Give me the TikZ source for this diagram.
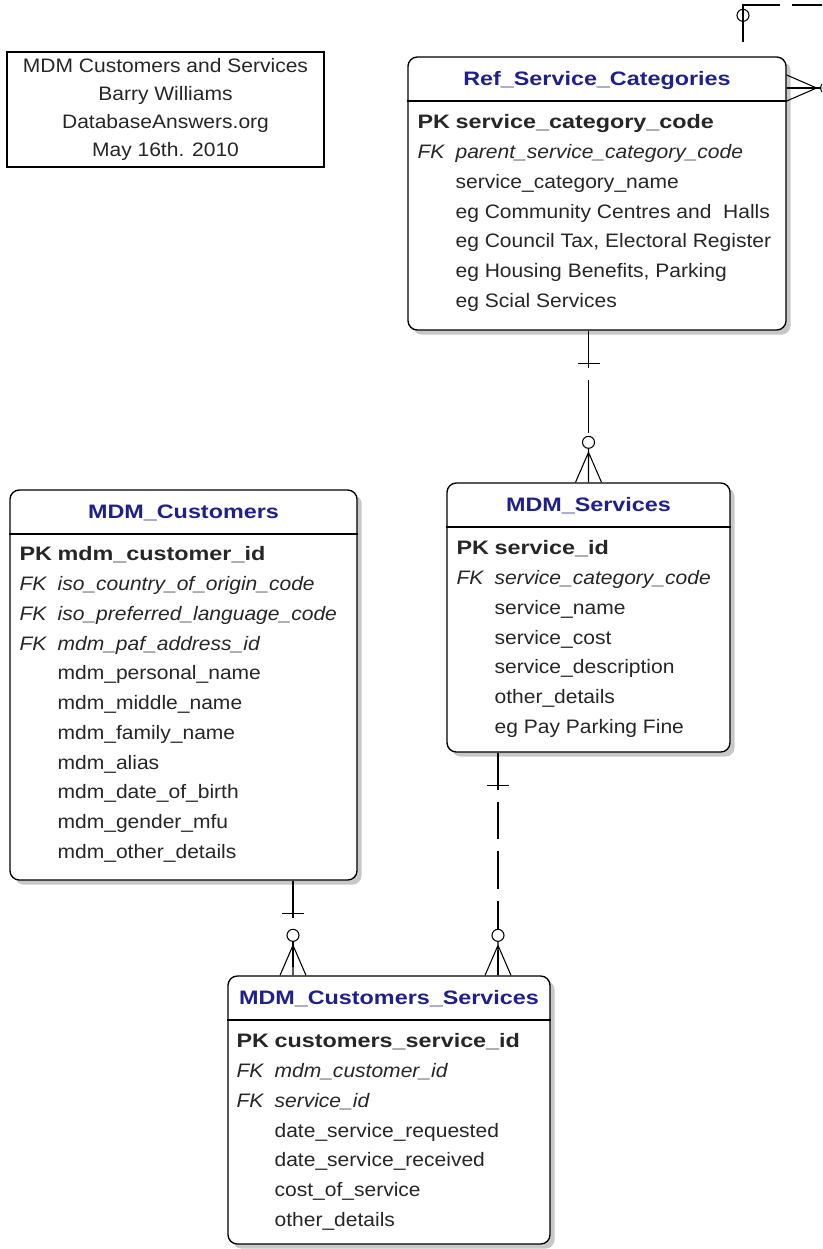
\documentclass[tikz,border=0pt]{standalone}
\usepackage{fontspec}
\setmainfont{Liberation Sans}[FakeStretch=1.08, BoldFeatures={FakeStretch=1.2}]
\usetikzlibrary{calc,fit,shadows}
\definecolor{titleblue}{RGB}{32,32,140}
\definecolor{shadowgrey}{RGB}{200,200,200}

\newcommand{\pkrow}[1]{\textbf{PK} & \textbf{#1}\\}
\newcommand{\fkrow}[1]{\textit{FK} & \textit{#1}\\}
\newcommand{\attrow}[1]{ & #1\\}

\tikzset{
  entity/.style={draw, line width=1pt, rounded corners=7pt, fill=white, inner sep=0pt,
    drop shadow={shadow xshift=3.5pt, shadow yshift=-3.5pt, fill=shadowgrey, opacity=1}},
  etitle/.style={anchor=north, minimum height=44*0.75pt, text height=10.5pt, text depth=0pt,
    inner sep=0pt, font=\fontsize{14.6pt}{17pt}\selectfont\bfseries, text=titleblue},
  fields/.style={anchor=north west, inner sep=0pt, text=black!85,
    font=\fontsize{14.6pt}{22.3pt}\selectfont},
  note/.style={draw, line width=0.8pt, minimum width=317*0.75pt, minimum height=115*0.75pt,
    align=center, text=black!85, font=\fontsize{14.6pt}{21pt}\selectfont},
  relline/.style={line width=0.8pt, dash pattern=on 28pt off 9pt},
  pics/oneside/.style={code={\draw[line width=0.8pt] (-11,33) -- (11,33);}},
  pics/manyopt/.style={code={
    \draw[line width=0.8pt] (-13,0) -- (0,-30) -- (13,0) (0,0) -- (0,-34);
    \draw[line width=0.8pt, fill=white] (0,-40) circle[radius=4.5pt];}},
}

\begin{document}
\begin{tikzpicture}[x=0.75pt, y=-0.75pt]
\useasboundingbox (0,0) rectangle (822,1249);
\clip (0,0) rectangle (822,1249);

% title note
\node[note] (note) at (165.5,109.5) {MDM Customers and Services\\Barry Williams\\DatabaseAnswers.org\\May 16th. 2010};

% entities
\node[entity, fit={(408,57) (786,330)}] (refcat) {};
\node[etitle] (refcat-t) at (refcat.north) {Ref\_Service\_Categories};
\draw[line width=1pt] (refcat.west |- refcat-t.south) -- (refcat.east |- refcat-t.south);
\node[fields] (refcat-f) at ($(refcat.west |- refcat-t.south)+(10,7)$) {%
  \begin{tabular}{@{}p{28.5pt}@{}l@{}}
  \pkrow{service\_category\_code}
  \fkrow{parent\_service\_category\_code}
  \attrow{service\_category\_name}
  \attrow{eg Community Centres and~ Halls}
  \attrow{eg Council Tax, Electoral Register}
  \attrow{eg Housing Benefits, Parking}
  \attrow{eg Scial Services}
  \end{tabular}};

\node[entity, fit={(10,490) (357,880)}] (cust) {};
\node[etitle] (cust-t) at (cust.north) {MDM\_Customers};
\draw[line width=1pt] (cust.west |- cust-t.south) -- (cust.east |- cust-t.south);
\node[fields] (cust-f) at ($(cust.west |- cust-t.south)+(10,6)$) {%
  \begin{tabular}{@{}p{28.5pt}@{}l@{}}
  \pkrow{mdm\_customer\_id}
  \fkrow{iso\_country\_of\_origin\_code}
  \fkrow{iso\_preferred\_language\_code}
  \fkrow{mdm\_paf\_address\_id}
  \attrow{mdm\_personal\_name}
  \attrow{mdm\_middle\_name}
  \attrow{mdm\_family\_name}
  \attrow{mdm\_alias}
  \attrow{mdm\_date\_of\_birth}
  \attrow{mdm\_gender\_mfu}
  \attrow{mdm\_other\_details}
  \end{tabular}};

\node[entity, fit={(447,483) (730,752)}] (svc) {};
\node[etitle] (svc-t) at (svc.north) {MDM\_Services};
\draw[line width=1pt] (svc.west |- svc-t.south) -- (svc.east |- svc-t.south);
\node[fields] (svc-f) at ($(svc.west |- svc-t.south)+(10,7)$) {%
  \begin{tabular}{@{}p{28.5pt}@{}l@{}}
  \pkrow{service\_id}
  \fkrow{service\_category\_code}
  \attrow{service\_name}
  \attrow{service\_cost}
  \attrow{service\_description}
  \attrow{other\_details}
  \attrow{eg Pay Parking Fine}
  \end{tabular}};

\node[entity, fit={(228,976) (550,1244)}] (cs) {};
\node[etitle] (cs-t) at (cs.north) {MDM\_Customers\_Services};
\draw[line width=1pt] (cs.west |- cs-t.south) -- (cs.east |- cs-t.south);
\node[fields] (cs-f) at ($(cs.west |- cs-t.south)+(9,7)$) {%
  \begin{tabular}{@{}p{28.5pt}@{}l@{}}
  \pkrow{customers\_service\_id}
  \fkrow{mdm\_customer\_id}
  \fkrow{service\_id}
  \attrow{date\_service\_requested}
  \attrow{date\_service\_received}
  \attrow{cost\_of\_service}
  \attrow{other\_details}
  \end{tabular}};

% relationships
\coordinate (custlink) at (293,0);
\coordinate (svclink) at (498,0);
\coordinate (loopx) at (743,5);
\coordinate (loopr) at (870,5);

\draw[relline, dash pattern=on 28pt off 9pt on 40pt off 9pt] (refcat.south -| svc.north) -- (svc.north);
\pic at (refcat.south -| svc.north) {oneside};
\pic at (svc.north) {manyopt};

\draw[relline] (cust.south -| custlink) -- (cs.north -| custlink);
\pic at (cust.south -| custlink) {oneside};
\pic at (cs.north -| custlink) {manyopt};

\draw[relline] (svc.south -| svclink) -- (cs.north -| svclink);
\pic at (svc.south -| svclink) {oneside};
\pic at (cs.north -| svclink) {manyopt};

% self reference of the categories
\draw[relline, dash pattern=on 0pt off 11pt on 55.5pt off 9pt on 300pt off 9pt]
  (refcat.north -| loopx) -- (loopx) -- (loopr) -- (loopr |- 0,88) -- (refcat.east |- 0,88);
\draw[line width=0.8pt] ($(refcat.north -| loopx)+(0,-41)$) circle[radius=4.5pt];
\pic[rotate=-90] at (refcat.east |- 0,88) {manyopt};
\end{tikzpicture}
\end{document}
